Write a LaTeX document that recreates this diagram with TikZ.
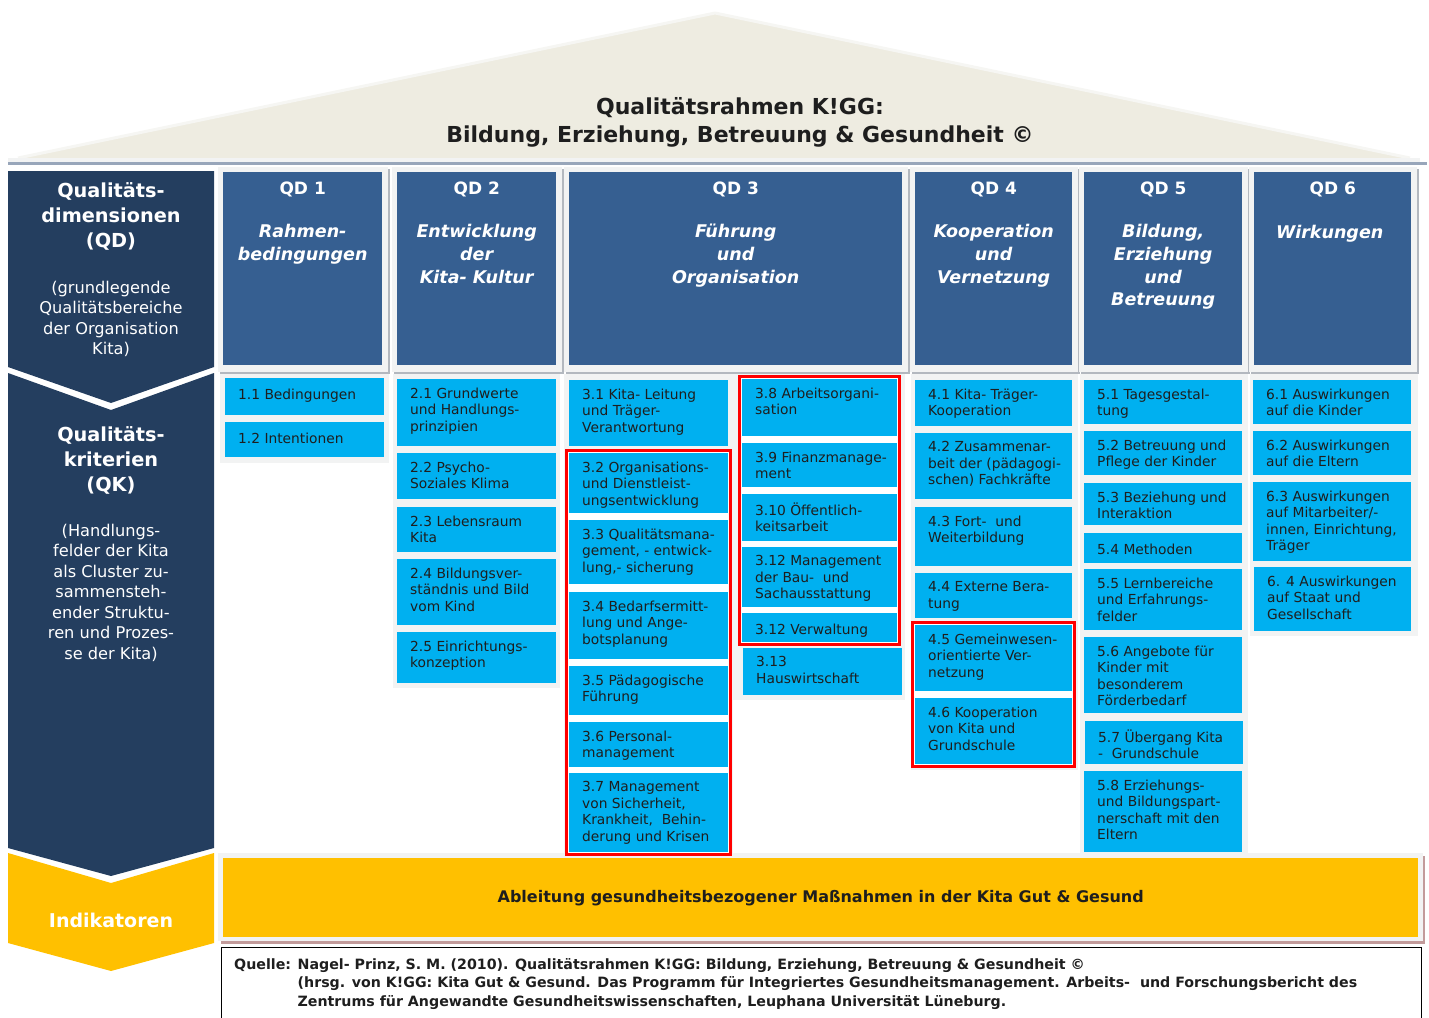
\documentclass[tikz,border=0pt]{standalone}
\usepackage{fontspec}
\setmainfont{DejaVu Sans}
\usepackage{xcolor}
\definecolor{navy}{HTML}{243E5F}
\definecolor{qdblue}{HTML}{365F91}
\definecolor{qkblue}{HTML}{00B0F0}
\definecolor{gold}{HTML}{FFC000}
\definecolor{roof}{HTML}{EEECE1}
\definecolor{roofedge}{HTML}{F6F6F3}
\definecolor{panelgray}{HTML}{F2F3F3}
\definecolor{shadegray}{HTML}{B3B8BF}
\definecolor{shelf}{HTML}{98A6BA}
\definecolor{rosy}{HTML}{C29B9B}
\definecolor{textdark}{HTML}{1E1E1E}
\usetikzlibrary{positioning,fit}
\newcommand{\qkcell}[6]{%
  \node[qkbox, minimum width=#3, minimum height=#5-#4] (qk#1) at (#2,#4) {};
  \node[qktext] (qt#1) at ([shift={(13,8.5)}]qk#1.north west) {#6};
}

\begin{document}
\begin{tikzpicture}[x=1pt, y=-1pt,
    qdbox/.style={rectangle, fill=qdblue, inner sep=0pt, anchor=north west, minimum height=193},
    qdnum/.style={font=\fontsize{17}{20}\selectfont\bfseries, text=white, anchor=base, inner sep=0pt},
    qdname/.style={font=\fontsize{17.5}{22.8}\selectfont\bfseries\itshape, text=white, align=center, anchor=north, inner sep=0pt, execute at begin node={\rule{0pt}{14pt}}},
    qkbox/.style={rectangle, fill=qkblue, inner sep=0pt, anchor=north west},
    qktext/.style={font=\fontsize{13.8}{16.5}\selectfont, text=textdark, align=left, anchor=north west, inner sep=0pt, execute at begin node={\rule{0pt}{13pt}}},
    redframe/.style={rectangle, draw=red, line width=3pt, inner sep=2.5pt},
    sidehead/.style={font=\fontsize{19.3}{25}\selectfont\bfseries, text=white, align=center, anchor=north, inner sep=0pt, execute at begin node={\rule{0pt}{15pt}}},
    sidetext/.style={font=\fontsize{16.2}{20.5}\selectfont, text=white, align=center, anchor=north, inner sep=0pt, execute at begin node={\rule{0pt}{12pt}}}
  ]
    \useasboundingbox (0,0) rectangle (1429,1017);

    \fill[roof] (18,158) -- (715,13) -- (1410,158) -- cycle;
    \draw[roofedge, line width=3pt, line join=round] (18,158) -- (715,13) -- (1410,158);
    \node[font=\fontsize{22}{28}\selectfont\bfseries, text=textdark, align=center, anchor=north, inner sep=0pt,
      execute at begin node={\rule{0pt}{16pt}}] (title) at (740,97)
      {Qualitätsrahmen K!GG:\\Bildung, Erziehung, Betreuung \& Gesundheit ©};
    \draw[panelgray, line width=4pt] (8,159.5) -- (1420,159.5);
    \draw[shelf, line width=3pt] (8,163.5) -- (1427,163.5);

    \fill[navy] (8,171) -- (214,171) -- (214,367) -- (111,403) -- (8,367) -- cycle;
    \fill[navy] (8,373) -- (111,410) -- (214,373) -- (214,848) -- (111,876) -- (8,848) -- cycle;
    \fill[gold] (8,853) -- (111,883) -- (214,853) -- (214,943) -- (111,971) -- (8,943) -- cycle;
    \node[sidehead] (qdhead) at (111,182) {Qualitäts-\\dimensionen\\(QD)};
    \node[sidetext] (qdnote) at (111,280.5) {(grundlegende\\Qualitätsbereiche\\der Organisation\\Kita)};
    \node[sidehead] (qkhead) at (111,426) {Qualitäts-\\kriterien\\(QK)};
    \node[sidetext] (qknote) at (111,523.5) {(Handlungs-\\felder der Kita\\als Cluster zu-\\sammensteh-\\ender Struktu-\\ren und Prozes-\\se der Kita)};
    \node[font=\fontsize{19}{22}\selectfont\bfseries, text=white, anchor=base, inner sep=0pt] (indik) at (111,927) {Indikatoren};

    \foreach \n/\cx/\cw/\name in {
      1/223/159/{Rahmen-\\bedingungen},
      2/397/159/{Entwicklung\\der\\Kita- Kultur},
      3/569/333/{Führung\\und\\Organisation},
      4/915/157/{Kooperation\\und\\Vernetzung},
      5/1084/158/{Bildung,\\Erziehung\\und\\Betreuung},
      6/1254/157/{Wirkungen}
    } {
      \fill[shadegray] (\cx-3,169) rectangle (\cx+\cw+8,373.5);
      \fill[panelgray] (\cx-5,167) rectangle (\cx+\cw+6,371.5);
      \node[qdbox, minimum width=\cw] (qd\n) at (\cx,172) {};
      \node[qdnum] (qdnum\n) at ([shift={(0,22.2)}]qd\n.north) {QD \n};
      \node[qdname] (qdname\n) at ([shift={(0,52)}]qd\n.north) {\name};
    }

    \fill[rosy] (221,856) rectangle (1425,944);
    \fill[panelgray] (218,853) rectangle (1423,941);
    \node[rectangle, fill=gold, inner sep=0pt, anchor=north west, minimum width=1195, minimum height=79,
      font=\fontsize{16}{18}\selectfont\bfseries, text=textdark] (band) at (223,858)
      {Ableitung gesundheitsbezogener Maßnahmen in der Kita Gut \& Gesund};

    \fill[panelgray] (220,374) rectangle (389,463);
    \fill[panelgray] (393,374) rectangle (560,688);
    \fill[panelgray] (564,374) rectangle (733,853);
    \fill[panelgray] (733,374) rectangle (905,700);
    \fill[panelgray] (911,374) rectangle (1078,770);
    \fill[panelgray] (1080,374) rectangle (1248,853);
    \fill[panelgray] (1250,374) rectangle (1418,636);
    \fill[white] (566,450) rectangle (731,856);
    \fill[white] (739,376) rectangle (900,645);
    \fill[white] (912,622) rectangle (1074,767);

    \qkcell{a1}{225}{159}{378}{415}{1.1 Bedingungen}
    \qkcell{a2}{225}{159}{422}{457}{1.2 Intentionen}
    \qkcell{b1}{397}{159}{379}{446}{2.1 Grundwerte\\und Handlungs-\\prinzipien}
    \qkcell{b2}{397}{159}{453}{499}{2.2 Psycho-\\Soziales Klima}
    \qkcell{b3}{397}{159}{507}{552}{2.3 Lebensraum\\Kita}
    \qkcell{b4}{397}{159}{559}{625}{2.4 Bildungsver-\\ständnis und Bild\\vom Kind}
    \qkcell{b5}{397}{159}{632}{683}{2.5 Einrichtungs-\\konzeption}
    \qkcell{c1}{569}{159}{380}{446}{3.1 Kita- Leitung\\und Träger-\\Verantwortung}
    \qkcell{c2}{569}{159}{453}{513}{3.2 Organisations-\\und Dienstleist-\\ungsentwicklung}
    \qkcell{c3}{569}{159}{520}{584}{3.3 Qualitätsmana-\\gement, - entwick-\\lung,- sicherung}
    \qkcell{c4}{569}{159}{592}{659}{3.4 Bedarfsermitt-\\lung und Ange-\\botsplanung}
    \qkcell{c5}{569}{159}{666}{715}{3.5 Pädagogische\\Führung}
    \qkcell{c6}{569}{159}{722}{767}{3.6 Personal-\\management}
    \qkcell{c7}{569}{159}{773}{852}{3.7 Management\\von Sicherheit,\\Krankheit,~~Behin-\\derung und Krisen}
    \qkcell{c8}{742}{155}{379}{436}{3.8 Arbeitsorgani-\\sation}
    \qkcell{c9}{742}{155}{443}{487}{3.9 Finanzmanage-\\ment}
    \qkcell{c10}{742}{155}{494}{541}{3.10 Öffentlich-\\keitsarbeit}
    \qkcell{c11}{742}{155}{547}{607}{3.12 Management\\der Bau-~~und\\Sachausstattung}
    \qkcell{c12}{742}{155}{613}{642}{3.12 Verwaltung}
    \qkcell{c13}{743}{159}{648}{695}{3.13\\Hauswirtschaft}
    \qkcell{d1}{915}{157}{380}{426}{4.1 Kita- Träger-\\Kooperation}
    \qkcell{d2}{915}{157}{433}{499}{4.2 Zusammenar-\\beit der (pädagogi-\\schen) Fachkräfte}
    \qkcell{d3}{915}{157}{507}{566}{4.3 Fort-~~und\\Weiterbildung}
    \qkcell{d4}{915}{157}{573}{618}{4.4 Externe Bera-\\tung}
    \qkcell{d5}{915}{157}{625}{691}{4.5 Gemeinwesen-\\orientierte Ver-\\netzung}
    \qkcell{d6}{915}{157}{698}{764}{4.6 Kooperation\\von Kita und\\Grundschule}
    \qkcell{e1}{1084}{158}{380}{424}{5.1 Tagesgestal-\\tung}
    \qkcell{e2}{1084}{158}{431}{475}{5.2 Betreuung und\\Pflege der Kinder}
    \qkcell{e3}{1084}{158}{483}{525}{5.3 Beziehung und\\Interaktion}
    \qkcell{e4}{1084}{158}{533}{563}{5.4 Methoden}
    \qkcell{e5}{1084}{158}{569}{630}{5.5 Lernbereiche\\und Erfahrungs-\\felder}
    \qkcell{e6}{1084}{158}{637}{713}{5.6 Angebote für\\Kinder mit\\besonderem\\Förderbedarf}
    \qkcell{e7}{1085}{158}{721}{764}{5.7 Übergang Kita\\-~~Grundschule}
    \qkcell{e8}{1084}{158}{771}{852}{5.8 Erziehungs-\\und Bildungspart-\\nerschaft mit den\\Eltern}
    \qkcell{f1}{1253}{158}{380}{424}{6.1 Auswirkungen\\auf die Kinder}
    \qkcell{f2}{1253}{158}{431}{475}{6.2 Auswirkungen\\auf die Eltern}
    \qkcell{f3}{1253}{158}{482}{561}{6.3 Auswirkungen\\auf Mitarbeiter/-\\innen, Einrichtung,\\Träger}
    \qkcell{f4}{1254}{157}{567}{631}{6. 4 Auswirkungen\\auf Staat und\\Gesellschaft}

    \node[redframe, fit=(qkc2)(qkc7)] (rf3a) {};
    \node[redframe, fit=(qkc8)(qkc12)] (rf3b) {};
    \node[redframe, fit=(qkd5)(qkd6)] (rf4) {};

    \node[draw=black, line width=1.2pt, inner sep=0pt, anchor=north west, minimum width=1200, minimum height=80] (source) at (221,947) {};
    \node[font=\fontsize{14.2}{18.5}\selectfont\bfseries, text=textdark, anchor=north west, inner sep=0pt] (sourcetext) at (234,956)
      {\begin{tabular}{@{}l@{ }l@{}}
        Quelle: & Nagel- Prinz, S. M. (2010). Qualitätsrahmen K!GG: Bildung, Erziehung, Betreuung \& Gesundheit ©\\
        & (hrsg. von K!GG: Kita Gut \& Gesund. Das Programm für Integriertes Gesundheitsmanagement. Arbeits-~~und Forschungsbericht des\\
        & Zentrums für Angewandte Gesundheitswissenschaften, Leuphana Universität Lüneburg.
      \end{tabular}};
  \end{tikzpicture}
\end{document}
